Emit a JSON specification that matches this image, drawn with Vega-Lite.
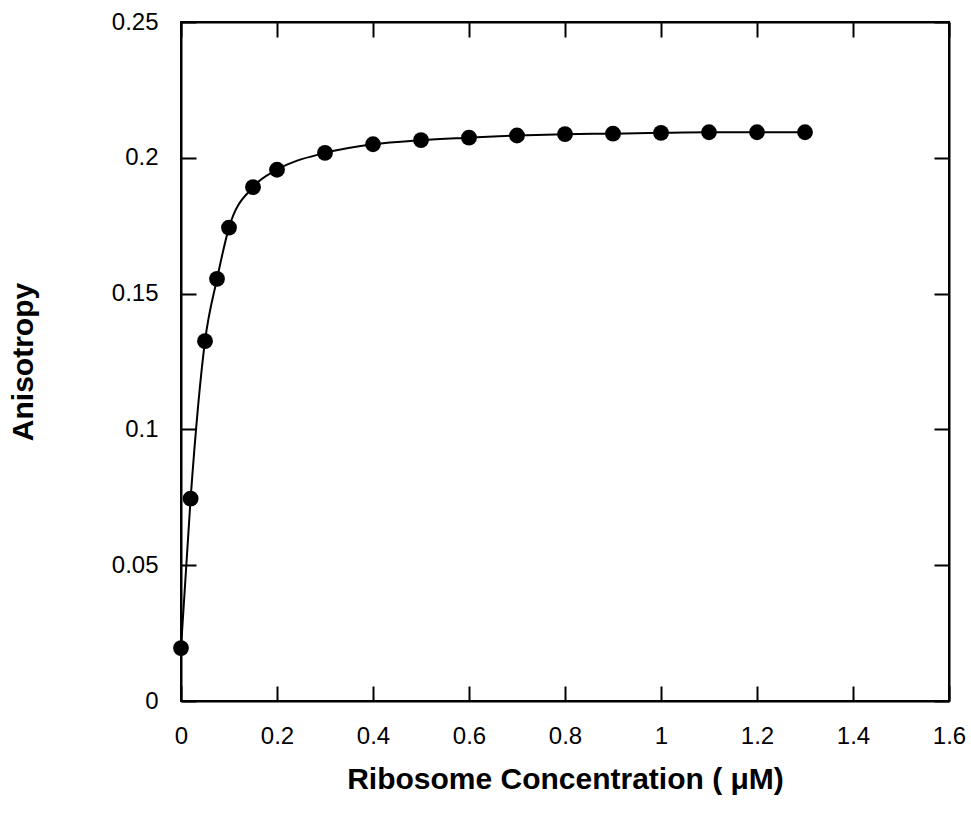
{
  "$schema": "https://vega.github.io/schema/vega-lite/v6.json",
  "width": 768,
  "height": 679,
  "autosize": {"type": "none"},
  "padding": {"left": 181, "top": 22, "right": 22, "bottom": 119},
  "background": "white",
  "config": {
    "font": "Liberation Sans",
    "view": {"stroke": "black", "strokeWidth": 2},
    "axis": {
      "grid": false,
      "labelFlush": false,
      "domainColor": "black",
      "domainWidth": 2,
      "tickColor": "black",
      "tickWidth": 2,
      "tickSize": -15,
      "labelFont": "Liberation Sans",
      "labelFontSize": 24,
      "labelColor": "black",
      "titleFont": "Liberation Sans",
      "titleFontSize": 30,
      "titleFontWeight": "bold",
      "titleColor": "black"
    }
  },
  "data": {
    "values": [
      {"conc": 0, "aniso": 0.0195},
      {"conc": 0.02, "aniso": 0.0745},
      {"conc": 0.05, "aniso": 0.1325},
      {"conc": 0.075, "aniso": 0.1554},
      {"conc": 0.1, "aniso": 0.1743},
      {"conc": 0.15, "aniso": 0.1892},
      {"conc": 0.2, "aniso": 0.1956},
      {"conc": 0.3, "aniso": 0.2018},
      {"conc": 0.4, "aniso": 0.2050},
      {"conc": 0.5, "aniso": 0.2065},
      {"conc": 0.6, "aniso": 0.2074},
      {"conc": 0.7, "aniso": 0.2082},
      {"conc": 0.8, "aniso": 0.2087},
      {"conc": 0.9, "aniso": 0.2089},
      {"conc": 1.0, "aniso": 0.2092},
      {"conc": 1.1, "aniso": 0.2094},
      {"conc": 1.2, "aniso": 0.2094},
      {"conc": 1.3, "aniso": 0.2094}
    ]
  },
  "layer": [
    {
      "mark": {"type": "line", "color": "black", "strokeWidth": 2, "interpolate": "monotone"},
      "encoding": {
        "x": {
          "field": "conc", "type": "quantitative",
          "scale": {"domain": [0, 1.6], "nice": false, "zero": false},
          "axis": {"orient": "bottom", "values": [0, 0.2, 0.4, 0.6, 0.8, 1, 1.2, 1.4, 1.6], "format": "~g", "labelPadding": 38, "title": "Ribosome Concentration ( μM)", "titlePadding": 16}
        },
        "y": {
          "field": "aniso", "type": "quantitative",
          "scale": {"domain": [0, 0.25], "nice": false, "zero": false},
          "axis": {"orient": "left", "values": [0, 0.05, 0.1, 0.15, 0.2, 0.25], "format": "~g", "labelPadding": 38, "title": "Anisotropy", "titlePadding": 73}
        }
      }
    },
    {
      "mark": {"type": "point", "filled": true, "shape": "circle", "color": "black", "size": 250, "opacity": 1},
      "encoding": {
        "x": {"field": "conc", "type": "quantitative", "axis": {"orient": "top", "values": [0, 0.2, 0.4, 0.6, 0.8, 1, 1.2, 1.4, 1.6], "labels": false, "title": null}},
        "y": {"field": "aniso", "type": "quantitative", "axis": {"orient": "right", "values": [0, 0.05, 0.1, 0.15, 0.2, 0.25], "labels": false, "title": null}}
      }
    }
  ],
  "resolve": {"axis": {"x": "independent", "y": "independent"}}
}
